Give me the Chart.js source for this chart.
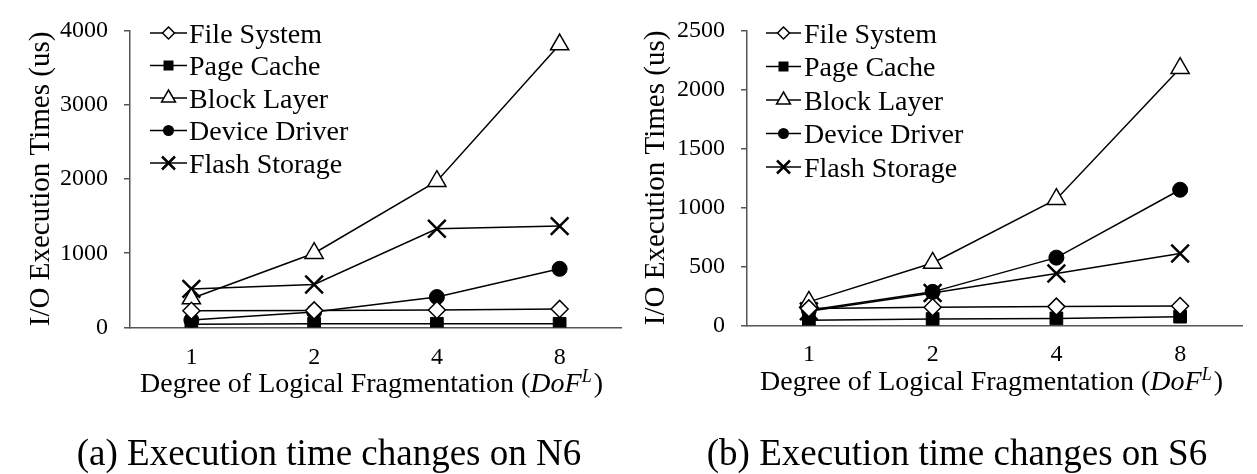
<!DOCTYPE html>
<html><head><meta charset="utf-8">
<script src="https://cdn.jsdelivr.net/npm/chart.js@4.4.0/dist/chart.umd.min.js"></script>
<style>
html,body{margin:0;padding:0;background:#fff;overflow:hidden;}
#wrap{position:relative;width:1257px;height:474px;background:#fff;}
#c1{position:absolute;left:0;top:0;}
#c2{position:absolute;left:636px;top:0;}
</style></head><body>
<div id="wrap">
<canvas id="c1" width="636" height="474"></canvas>
<canvas id="c2" width="621" height="474"></canvas>
</div>
<script>
// ---------- data ----------
const categories = ['1', '2', '4', '8'];
const seriesNames = ['File System', 'Page Cache', 'Block Layer', 'Device Driver', 'Flash Storage'];

// (a) N6
const n6FileSystem   = [225, 230, 235, 250];
const n6PageCache    = [45, 50, 50, 50];
const n6BlockLayer   = [390, 1000, 1970, 3810];
const n6DeviceDriver = [100, 210, 410, 790];
const n6FlashStorage = [520, 580, 1330, 1365];
const n6YTicks = [0, 1000, 2000, 3000, 4000];

// (b) S6
const s6FileSystem   = [145, 155, 160, 165];
const s6PageCache    = [45, 55, 60, 75];
const s6BlockLayer   = [200, 530, 1070, 2180];
const s6DeviceDriver = [130, 285, 575, 1150];
const s6FlashStorage = [120, 275, 440, 610];
const s6YTicks = [0, 500, 1000, 1500, 2000, 2500];

const yTitle = 'I/O Execution Times (us)';
const xTitleMain = 'Degree of Logical Fragmentation (';
const xTitleItal = 'DoF';
const xTitleSup = 'L';
const xTitleEnd = ')';
const captionA = '(a) Execution time changes on N6';
const captionB = '(b) Execution time changes on S6';

// ---------- styles ----------
const FONT = '"Liberation Serif", "Times New Roman", serif';
const markerStyles = [
  { shape: 'rectRot',  radius: 8.5, fill: '#fff', lw: 1.5, legendSize: 6 },
  { shape: 'rect',     radius: 9,   fill: '#000', lw: 1,   legendSize: 5 },
  { shape: 'triangle', radius: 10.5,fill: '#fff', lw: 1.5, legendSize: 8 },
  { shape: 'circle',   radius: 7.5, fill: '#000', lw: 1,   legendSize: 5.5 },
  { shape: 'crossRot', radius: 12.5,fill: '#000', lw: 2.5, legendSize: 6.5 }
];

function drawMarker(ctx, st, x, y) {
  const s = st.legendSize;
  ctx.save();
  ctx.lineWidth = st.lw; ctx.strokeStyle = '#000'; ctx.fillStyle = st.fill;
  ctx.beginPath();
  switch (st.shape) {
    case 'rectRot':
      ctx.moveTo(x, y - s); ctx.lineTo(x + s, y); ctx.lineTo(x, y + s); ctx.lineTo(x - s, y); ctx.closePath();
      ctx.fill(); ctx.stroke(); break;
    case 'rect':
      ctx.rect(x - s, y - s, 2 * s, 2 * s); ctx.fill(); break;
    case 'triangle':
      ctx.moveTo(x, y - s); ctx.lineTo(x + s * 0.87, y + s * 0.5); ctx.lineTo(x - s * 0.87, y + s * 0.5); ctx.closePath();
      ctx.fill(); ctx.stroke(); break;
    case 'circle':
      ctx.arc(x, y, s, 0, Math.PI * 2); ctx.fill(); break;
    case 'crossRot':
      ctx.lineWidth = 2.5;
      ctx.moveTo(x - s, y - s); ctx.lineTo(x + s, y + s); ctx.moveTo(x + s, y - s); ctx.lineTo(x - s, y + s); ctx.stroke(); break;
  }
  ctx.restore();
}

const decorPlugin = {
  id: 'decor',
  afterDraw(chart, args, opts) {
    const ctx = chart.ctx, a = chart.chartArea;
    // legend inside plot
    chart.data.datasets.forEach((ds, i) => {
      const y = opts.legendY0 + i * opts.legendDy;
      const x0 = a.left + opts.lineStart, x1 = a.left + opts.lineEnd;
      ctx.save();
      ctx.strokeStyle = '#000'; ctx.lineWidth = 1.5;
      ctx.beginPath(); ctx.moveTo(x0, y); ctx.lineTo(x1, y); ctx.stroke();
      ctx.restore();
      drawMarker(ctx, markerStyles[i], (x0 + x1) / 2, y);
      ctx.save();
      ctx.font = '28px ' + FONT; ctx.fillStyle = '#000';
      ctx.textAlign = 'left'; ctx.textBaseline = 'alphabetic';
      ctx.fillText(ds.label, a.left + opts.textX, y + 9.5);
      ctx.restore();
    });
    // x-axis title with italic/superscript parts
    const parts = [
      [xTitleMain, '28px ' + FONT, 0],
      [xTitleItal, 'italic 28px ' + FONT, 0],
      [xTitleSup, 'italic 18px ' + FONT, -10],
      [xTitleEnd, '28px ' + FONT, 0]
    ];
    ctx.save();
    ctx.fillStyle = '#000'; ctx.textBaseline = 'alphabetic'; ctx.textAlign = 'left';
    let total = 0;
    parts.forEach(p => { ctx.font = p[1]; total += ctx.measureText(p[0]).width + (p[0] === xTitleSup ? 2 : 0); });
    let x = (a.left + a.right) / 2 + opts.xTitleDx - total / 2;
    parts.forEach(p => {
      ctx.font = p[1];
      ctx.fillText(p[0], x, opts.xTitleY + p[2]);
      x += ctx.measureText(p[0]).width + (p[0] === xTitleSup ? 2 : 0);
    });
    // caption
    ctx.font = '37px ' + FONT; ctx.textAlign = 'center';
    ctx.fillText(opts.caption, opts.captionX, opts.captionY);
    ctx.restore();
  }
};

function makeDatasets(arrs) {
  return arrs.map((d, i) => ({
    label: seriesNames[i],
    data: d,
    borderColor: '#000',
    borderWidth: 1.5,
    backgroundColor: markerStyles[i].fill,
    pointStyle: markerStyles[i].shape,
    pointRadius: markerStyles[i].radius,
    pointHoverRadius: markerStyles[i].radius,
    pointBackgroundColor: markerStyles[i].fill,
    pointBorderColor: '#000',
    pointBorderWidth: markerStyles[i].lw,
    tension: 0,
    fill: false
  }));
}

function makeChart(id, arrs, yTicks, cfg) {
  return new Chart(document.getElementById(id), {
    type: 'line',
    data: { labels: categories, datasets: makeDatasets(arrs) },
    plugins: [decorPlugin],
    options: {
      responsive: false,
      animation: false,
      events: [],
      layout: { padding: { top: cfg.top, right: cfg.padRight, bottom: 0, left: 0 } },
      plugins: {
        legend: { display: false },
        tooltip: { enabled: false },
        decor: cfg.decor
      },
      scales: {
        x: {
          offset: true,
          grid: { display: false, drawTicks: false },
          border: { display: true, color: '#555', width: 1.5 },
          ticks: { color: '#000', font: { family: FONT, size: 24 }, padding: cfg.xTickPad, maxRotation: 0 },
          afterFit: s => { s.height = cfg.xHeight; }
        },
        y: {
          min: yTicks[0], max: yTicks[yTicks.length - 1],
          afterBuildTicks: s => { s.ticks = yTicks.map(v => ({ value: v })); },
          grid: { display: true, drawOnChartArea: false, drawTicks: true, tickLength: 6, color: '#555', lineWidth: 1.5 },
          border: { display: true, color: '#555', width: 1.5 },
          ticks: { color: '#000', font: { family: FONT, size: 24 }, padding: 16, callback: v => String(v) },
          title: { display: true, text: yTitle, color: '#000', font: { family: FONT, size: 29 }, padding: { top: cfg.yTitlePad, bottom: 0 } },
          afterFit: s => { s.width = cfg.yWidth; }
        }
      }
    }
  });
}

makeChart('c1', [n6FileSystem, n6PageCache, n6BlockLayer, n6DeviceDriver, n6FlashStorage], n6YTicks, {
  top: 29, padRight: 1, xHeight: 474 - 327.5, yWidth: 130, xTickPad: 16, yTitlePad: 24,
  decor: { legendY0: 33, legendDy: 32.5, lineStart: 20, lineEnd: 57, textX: 59,
           xTitleDx: -4, xTitleY: 392, caption: captionA, captionX: 329, captionY: 465 }
});
makeChart('c2', [s6FileSystem, s6PageCache, s6BlockLayer, s6DeviceDriver, s6FlashStorage], s6YTicks, {
  top: 29, padRight: 9, xHeight: 474 - 325.5, yWidth: 111, xTickPad: 15, yTitlePad: 3,
  decor: { legendY0: 33, legendDy: 33.5, lineStart: 19, lineEnd: 54, textX: 57,
           xTitleDx: -3, xTitleY: 390, caption: captionB, captionX: 321, captionY: 465 }
});
</script>
</body></html>
